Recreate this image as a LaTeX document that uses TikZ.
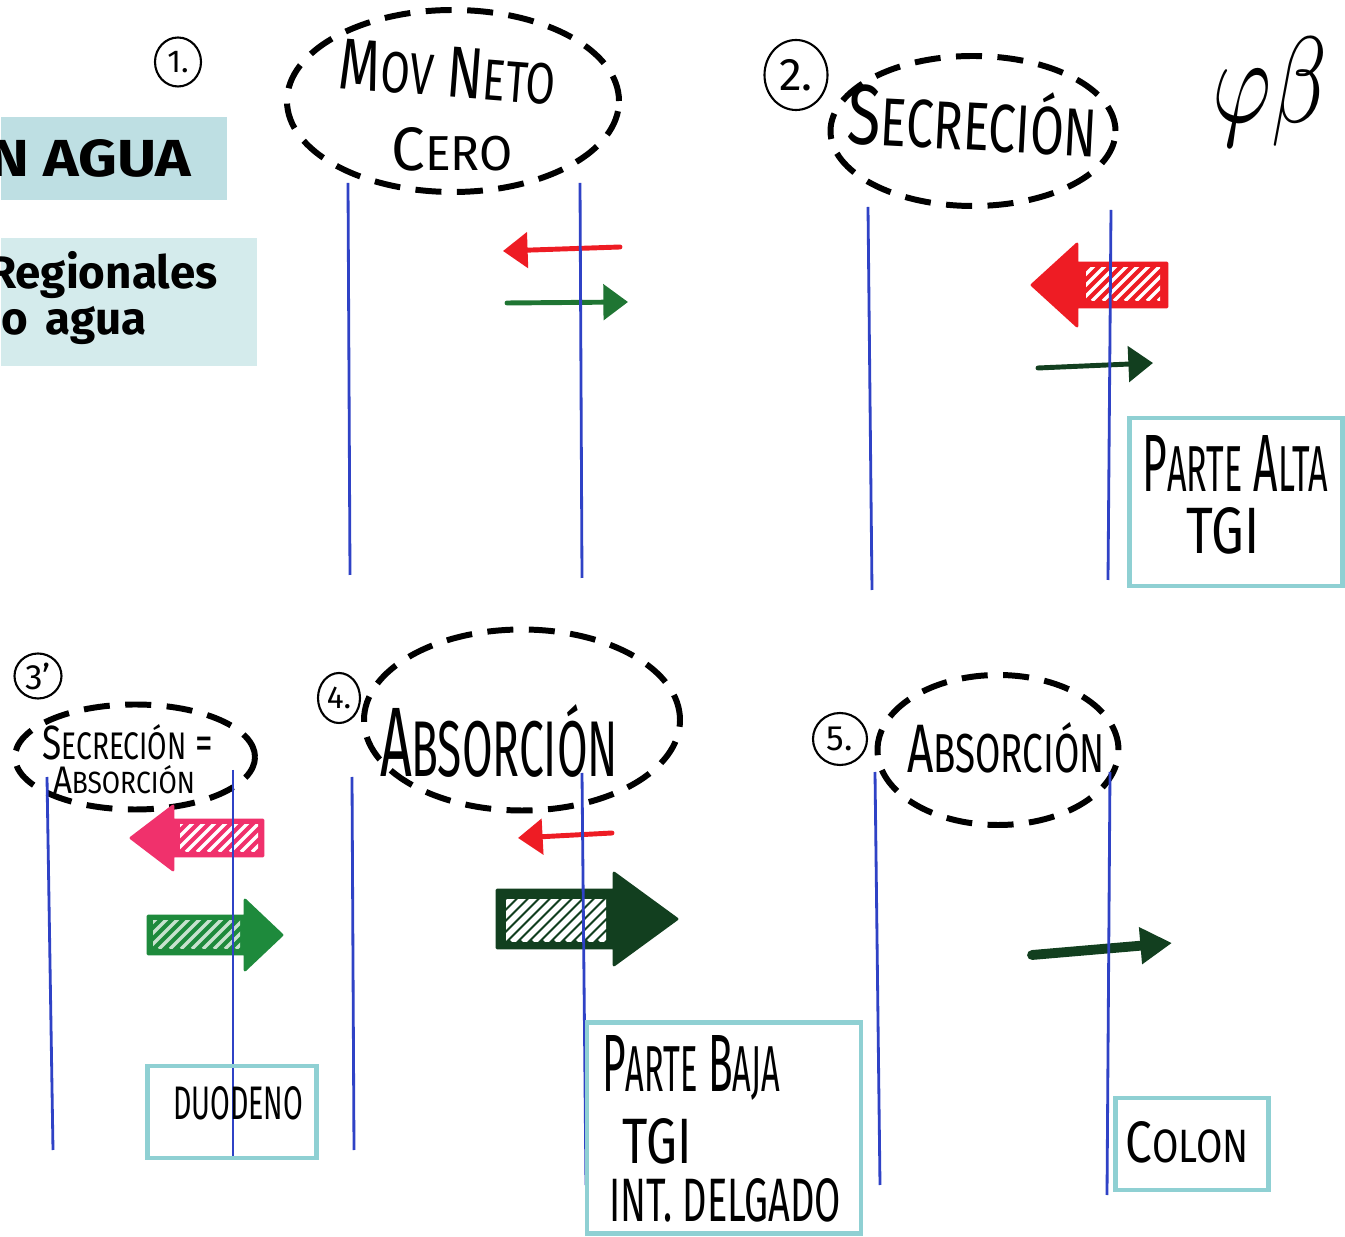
\documentclass[tikz,border=0pt]{standalone}
\usepackage{fontspec}
\usepackage{graphicx}
\setmainfont{Fira Sans}
\usetikzlibrary{shapes.geometric,arrows.meta}

\definecolor{bandteal}{HTML}{BEDFE3}
\definecolor{bandpale}{HTML}{D4EBEC}
\definecolor{frameteal}{HTML}{8FD0D3}
\definecolor{wallblue}{HTML}{2F42C6}
\definecolor{inkred}{HTML}{EE1C24}
\definecolor{inkgreen}{HTML}{1F7533}
\definecolor{darkgreen}{HTML}{123F1F}
\definecolor{inkpink}{HTML}{F0316C}
\definecolor{midgreen}{HTML}{1E8A3C}

\newlength\pxu
\setlength\pxu{0.01cm}
% handwritten-style label stretched to a given width and height (in px units)
\newcommand\hw[3]{\resizebox{#1\pxu}{#2\pxu}{#3}}
% filled block arrow: tail x, neck x, tip x, middle y, shaft half height, head half height, colour
\newcommand\blockarrow[7]{%
  \filldraw[#7, line join=round, line width=0.8pt]
    (#1,{#4-#5}) -- (#2,{#4-#5}) -- (#2,{#4-#6}) -- (#3,#4)
    -- (#2,{#4+#6}) -- (#2,{#4+#5}) -- (#1,{#4+#5}) -- cycle;}
% diagonal stripes inside a rectangle: x1, y1, x2, y2, colour, width
\newcommand\hatchzone[6]{%
  \begin{scope}
    \clip (#1,#2) rectangle (#3,#4);
    \foreach \s in {-60,-49,...,200}{\draw[#5, line width=#6] ({#1+\s},#4) -- ++(60,-60);}
  \end{scope}}

\tikzset{
  hole/.style={ellipse, draw=black, line width=1.7pt, dash pattern=on 7.4pt off 4.4pt, inner sep=0pt},
  numring/.style={ellipse, draw=black, line width=0.6pt, inner sep=0pt},
  frame/.style={rectangle, draw=frameteal, line width=1.4pt, inner sep=0pt},
  wall/.style={draw=wallblue, line width=0.8pt},
  thinarrow/.style={line width=1.4pt, line cap=round, -{Triangle[length=7pt,width=10pt]}},
  hand/.style={inner sep=0pt, text=black},
  band/.style={inner sep=0pt, anchor=north west},
}

\begin{document}
\begin{tikzpicture}[x=0.01cm, y=-0.01cm]
\useasboundingbox (0,0) rectangle (1345,1237);
\fill[white] (0,0) rectangle (1345,1237);

% title bands at the left edge
\begin{scope}
  \clip (0,0) rectangle (1345,1237);
  \node[band, fill=bandteal, minimum width=226\pxu, minimum height=83\pxu] (band1) at (0,116) {};
  \node[anchor=base east, inner sep=0pt] (band1txt) at (192,177) {\hw{202}{37}{\bfseries N AGUA}};
  \node[band, fill=bandpale, minimum width=256\pxu, minimum height=128\pxu] (band2) at (0,237) {};
  \node[anchor=base east, inner sep=0pt] (band2a) at (218,289) {\fontsize{13}{15}\selectfont\bfseries Regionales};
  \node[anchor=base west, inner sep=0pt] (band2b) at (1,335) {\fontsize{13}{15}\selectfont\bfseries o\hspace{5pt}agua};
\end{scope}

% numbered rings
\node[numring, minimum width=46\pxu, minimum height=49\pxu] (n1) at (178,62) {\fontsize{9}{10}\selectfont 1.};
\node[numring, minimum width=63\pxu, minimum height=70\pxu] (n2) at (796,75) {\fontsize{13}{14}\selectfont 2.};
\node[numring, minimum width=47\pxu, minimum height=45\pxu] (n3) at (38,676) {\fontsize{10}{12}\selectfont 3'};
\node[numring, minimum width=42\pxu, minimum height=50\pxu] (n4) at (339,698) {\fontsize{9}{10}\selectfont 4.};
\node[numring, minimum width=54\pxu, minimum height=52\pxu] (n5) at (840,739) {\fontsize{10}{12}\selectfont 5.};

% dashed ellipses
\node[hole, minimum width=332\pxu, minimum height=182\pxu] (e1) at (453,101) {};
\node[hole, minimum width=285\pxu, minimum height=150\pxu] (e2) at (973,131) {};
\node[hole, minimum width=240\pxu, minimum height=105\pxu] (e3) at (135,757) {};
\node[hole, minimum width=316\pxu, minimum height=181\pxu] (e4) at (522,720) {};
\node[hole, minimum width=241\pxu, minimum height=150\pxu] (e5) at (998,750) {};

% ellipse captions
\node[hand, rotate=-4.5] (t1a) at (448,72) {\hw{217}{50}{M{\footnotesize OV} N{\footnotesize ETO}}};
\node[hand] (t1b) at (452,149) {\hw{121}{43}{C{\footnotesize ERO}}};
\node[hand, rotate=-3] (t2) at (973,120) {\hw{250}{62}{S{\footnotesize ECRECIÓN}}};
\node[hand] (t3a) at (128,742) {\hw{171}{35}{S{\footnotesize ECRECIÓN} =}};
\node[hand] (t3b) at (124,780) {\hw{142}{28}{A{\footnotesize BSORCIÓN}}};
\node[hand] (t4) at (499,741) {\hw{238}{72}{A{\footnotesize BSORCIÓN}}};
\node[hand] (t5) at (1006,748) {\hw{197}{50}{A{\footnotesize BSORCIÓN}}};
\node[hand] (greek) at (1270,92) {\resizebox*{115\pxu}{109\pxu}{$\varphi\beta$}};

% block arrows with striped shafts
\blockarrow{1167}{1077}{1032}{285}{22}{41}{inkred}
\hatchzone{1086}{268}{1160}{301}{white}{1pt}
\blockarrow{263}{173}{131}{838}{18}{32}{inkpink}
\hatchzone{180}{825}{258}{852}{white}{1pt}
\blockarrow{148}{245}{282}{935}{19}{35}{midgreen}
\hatchzone{153}{921}{240}{949}{white!75!midgreen}{1pt}
\blockarrow{497}{614}{677}{919}{29}{46}{darkgreen}
\hatchzone{506}{900}{606}{942}{white}{1.6pt}

% thin arrows
\coordinate (r1s) at (620,247); \coordinate (r1e) at (503,251);
\coordinate (g1s) at (507,303); \coordinate (g1e) at (628,302);
\coordinate (g2s) at (1038,368); \coordinate (g2e) at (1153,363);
\coordinate (r4s) at (612,833); \coordinate (r4e) at (518,838);
\coordinate (g5s) at (1032,955); \coordinate (g5e) at (1172,943);
\draw[thinarrow, inkred] (r1s) -- (r1e);
\draw[thinarrow, inkgreen] (g1s) -- (g1e);
\draw[thinarrow, darkgreen] (g2s) -- (g2e);
\draw[thinarrow, inkred] (r4s) -- (r4e);
\draw[darkgreen, line width=2.8pt, line cap=round, -{Triangle[length=9pt,width=10pt]}] (g5s) -- (g5e);

% membrane walls
\foreach \n/\xa/\ya/\xb/\yb in {
  w1/348/183/350/575, w2/580/183/582/578, w3/868/207/872/590, w4/1111/210/1108/580,
  w5/47/777/53/1150, w6/233/770/233/1157, w7/352/777/354/1150, w8/582/773/586/1185,
  w9/875/772/880/1185, w10/1110/772/1107/1195}{
  \coordinate (\n top) at (\xa,\ya);
  \coordinate (\n bot) at (\xb,\yb);
  \draw[wall] (\n top) -- (\n bot);
}

% region labels
\node[frame, minimum width=213\pxu, minimum height=168\pxu] (f1) at (1236,502) {};
\node[hand] (f1a) at (1235,464) {\hw{185}{56}{P{\footnotesize ARTE} A{\footnotesize LTA}}};
\node[hand] (f1b) at (1223,531) {\hw{73}{46}{TGI}};
\node[frame, minimum width=169\pxu, minimum height=92\pxu] (f2) at (232,1112) {};
\node[hand] (f2a) at (238,1103) {\hw{130}{33}{DUODENO}};
\node[frame, minimum width=274\pxu, minimum height=211\pxu] (f3) at (724,1128) {};
\node[hand] (f3a) at (691,1068) {\hw{178}{56}{P{\footnotesize ARTE} B{\footnotesize AJA}}};
\node[hand] (f3b) at (657,1141) {\hw{69}{45}{TGI}};
\node[hand] (f3c) at (725,1200) {\hw{232}{43}{INT. DELGADO}};
\node[frame, minimum width=153\pxu, minimum height=92\pxu] (f4) at (1192,1144) {};
\node[hand] (f4a) at (1187,1142) {\hw{123}{41}{C{\footnotesize OLON}}};
\end{tikzpicture}
\end{document}
